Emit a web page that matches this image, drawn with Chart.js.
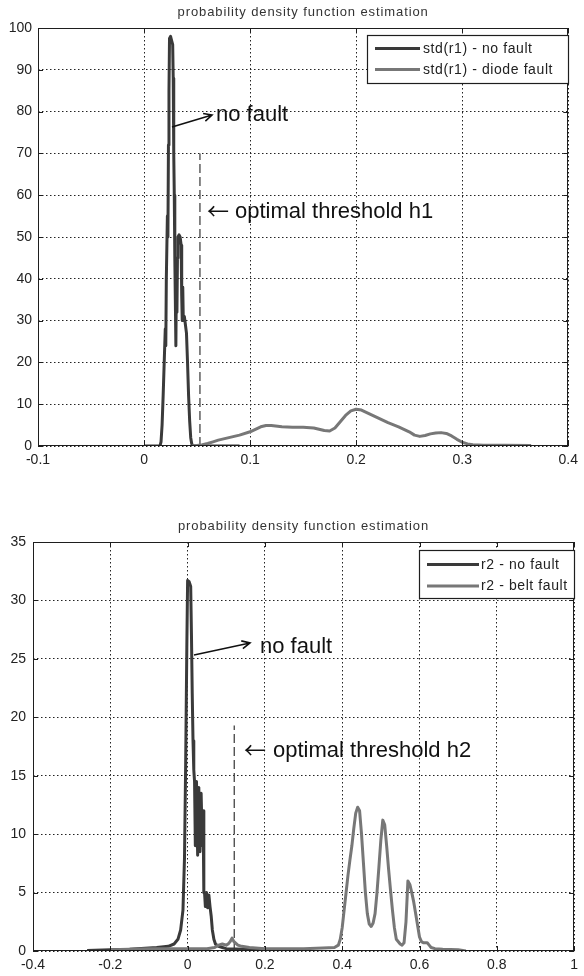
<!DOCTYPE html>
<html><head><meta charset="utf-8">
<script src="https://cdn.jsdelivr.net/npm/chart.js@4.4.1/dist/chart.umd.min.js"></script>
<style>
html,body{margin:0;padding:0;background:#fff;width:584px;height:976px;overflow:hidden}
.w{position:absolute;left:0;width:584px}
#w1{top:0;height:475px}
#w2{top:480px;height:496px}
</style></head><body>
<div class="w" id="w1"><canvas id="c1"></canvas></div>
<div class="w" id="w2"><canvas id="c2"></canvas></div>
<script>
// ---------- DATA: top chart ----------
const title1 = "probability density function estimation";
const legend1 = ["std(r1) - no fault", "std(r1) - diode fault"];
const xTicks1 = [-0.1, 0, 0.1, 0.2, 0.3, 0.4];
const xLabels1 = ["-0.1", "0", "0.1", "0.2", "0.3", "0.4"];
const yTicks1 = [0, 10, 20, 30, 40, 50, 60, 70, 80, 90, 100];
const yLabels1 = ["0", "10", "20", "30", "40", "50", "60", "70", "80", "90", "100"];
const noFault1X = [0, 0.010, 0.015, 0.016, 0.017, 0.018, 0.019, 0.020, 0.0205, 0.021, 0.022, 0.0225, 0.023, 0.0235, 0.024, 0.025, 0.026, 0.027, 0.0275, 0.028, 0.0285, 0.029, 0.0295, 0.030, 0.0305, 0.031, 0.0315, 0.032, 0.033, 0.034, 0.035, 0.0355, 0.036, 0.0365, 0.037, 0.038, 0.039, 0.040, 0.041, 0.042, 0.043, 0.044, 0.045, 0.046, 0.06, 0.09];
const noFault1Y = [0, 0, 0, 1, 5, 12, 20, 28, 24, 40, 55, 50, 72, 85, 97.5, 98, 97, 96, 88, 70, 60, 45, 35, 24, 40, 32, 45, 50, 50.5, 50, 48, 36, 30, 38, 30, 31, 29, 27, 20, 12, 6, 2, 0.5, 0, 0, 0];
const fault1X = [0.045, 0.05, 0.055, 0.06, 0.065, 0.07, 0.08, 0.09, 0.10, 0.105, 0.11, 0.115, 0.12, 0.13, 0.14, 0.15, 0.16, 0.165, 0.17, 0.175, 0.18, 0.185, 0.19, 0.195, 0.2, 0.205, 0.21, 0.22, 0.23, 0.24, 0.25, 0.255, 0.26, 0.265, 0.27, 0.275, 0.28, 0.285, 0.29, 0.295, 0.30, 0.305, 0.31, 0.32, 0.34, 0.365];
const fault1Y = [0, 0.1, 0.3, 0.6, 1.0, 1.4, 2.0, 2.6, 3.4, 4.0, 4.6, 4.9, 4.9, 4.6, 4.5, 4.5, 4.3, 4.0, 3.7, 3.6, 4.3, 5.8, 7.3, 8.4, 8.8, 8.6, 8.0, 6.8, 5.6, 4.6, 3.4, 2.6, 2.3, 2.5, 2.9, 3.1, 3.2, 3.0, 2.4, 1.6, 0.9, 0.5, 0.3, 0.2, 0.15, 0.1];
const threshold1X = [0.0527, 0.0527];
const threshold1Y = [0, 70];
const noteNoFault1 = "no fault";
const noteThresholdArrow = "←";
const noteThreshold1 = "optimal threshold h1";

// ---------- DATA: bottom chart ----------
const title2 = "probability density function estimation";
const legend2 = ["r2 - no fault", "r2 - belt fault"];
const xTicks2 = [-0.4, -0.2, 0, 0.2, 0.4, 0.6, 0.8, 1];
const xLabels2 = ["-0.4", "-0.2", "0", "0.2", "0.4", "0.6", "0.8", "1"];
const yTicks2 = [0, 5, 10, 15, 20, 25, 30, 35];
const yLabels2 = ["0", "5", "10", "15", "20", "25", "30", "35"];
const noFault2X = [-0.26, -0.2, -0.15, -0.1, -0.08, -0.05, -0.035, -0.025, -0.018, -0.012, -0.008, -0.005, -0.002, 0.0, 0.004, 0.008, 0.010, 0.012, 0.014, 0.016, 0.018, 0.020, 0.023, 0.026, 0.029, 0.032, 0.035, 0.038, 0.040, 0.042, 0.044, 0.046, 0.049, 0.052, 0.055, 0.058, 0.061, 0.064, 0.068, 0.072, 0.08, 0.09, 0.1, 0.15, 0.2, 0.25];
const noFault2Y = [0.05, 0.1, 0.15, 0.25, 0.3, 0.4, 0.6, 1.0, 1.8, 3.5, 8, 16, 26, 31.7, 31.6, 31.2, 27, 22, 18, 15.5, 14.5, 9, 14.5, 8.2, 14, 8.5, 13.5, 9, 12, 5, 4.9, 3.8, 5.0, 3.7, 4.8, 3.8, 3.0, 1.8, 1.0, 0.6, 0.4, 0.3, 0.2, 0.15, 0.1, 0.05];
const fault2X = [-0.2, -0.15, -0.1, -0.05, 0, 0.05, 0.07, 0.08, 0.09, 0.1, 0.105, 0.11, 0.115, 0.12, 0.13, 0.14, 0.16, 0.2, 0.25, 0.3, 0.35, 0.38, 0.39, 0.395, 0.40, 0.405, 0.41, 0.415, 0.42, 0.425, 0.43, 0.435, 0.44, 0.445, 0.45, 0.455, 0.46, 0.465, 0.47, 0.475, 0.48, 0.485, 0.49, 0.495, 0.50, 0.505, 0.51, 0.515, 0.52, 0.525, 0.53, 0.535, 0.54, 0.55, 0.555, 0.56, 0.565, 0.57, 0.575, 0.58, 0.585, 0.59, 0.595, 0.60, 0.605, 0.61, 0.62, 0.625, 0.63, 0.64, 0.66, 0.7, 0.72];
const fault2Y = [0.1, 0.15, 0.2, 0.2, 0.2, 0.2, 0.3, 0.5, 0.6, 0.5, 0.6, 0.8, 1.1, 0.8, 0.5, 0.4, 0.3, 0.2, 0.2, 0.2, 0.25, 0.3, 0.5, 1.0, 2.0, 3.5, 5.0, 6.5, 7.8, 9.0, 10.5, 11.8, 12.3, 12.0, 10.0, 7.5, 5.0, 3.2, 2.3, 2.1, 2.4, 3.2, 5.0, 7.2, 9.5, 11.2, 10.8, 9.0, 7.0, 5.2, 3.5, 2.0, 1.0, 0.6, 0.5, 0.7, 2.5, 6.0, 5.7, 5.0, 4.2, 3.2, 2.2, 1.2, 0.8, 0.7, 0.7, 0.5, 0.3, 0.2, 0.15, 0.1, 0];
const threshold2X = [0.1207, 0.1207];
const threshold2Y = [0, 19.3];
const noteNoFault2 = "no fault";
const noteThreshold2 = "optimal threshold h2";

// ---------- helpers ----------
const pts = (xs, ys) => xs.map((x, i) => ({x: x, y: ys[i]}));
const DARK = '#3a3a3a', GREY = '#777777';
const TICKFONT = {family: '"Liberation Sans", Arial, sans-serif', size: 14};

function arrow(ctx, x1, y1, x2, y2) {
  const ang = Math.atan2(y2 - y1, x2 - x1), h = 9, w = 0.45;
  ctx.beginPath();
  ctx.moveTo(x1, y1); ctx.lineTo(x2, y2);
  ctx.moveTo(x2 - h * Math.cos(ang - w), y2 - h * Math.sin(ang - w));
  ctx.lineTo(x2, y2);
  ctx.lineTo(x2 - h * Math.cos(ang + w), y2 - h * Math.sin(ang + w));
  ctx.stroke();
}

function decoPlugin(o) {
  return {
    id: 'deco',
    afterDraw(chart) {
      const ctx = chart.ctx, a = chart.chartArea, xs = chart.scales.x, ys = chart.scales.y;
      ctx.save();
      // frame
      ctx.strokeStyle = '#1e1e1e'; ctx.lineWidth = 1;
      ctx.strokeRect(Math.round(a.left) + 0.5, Math.round(a.top) + 0.5, Math.round(a.right - a.left) - 1, Math.round(a.bottom - a.top) - 1);
      // inward ticks
      ctx.beginPath();
      o.xTicks.forEach(v => { const p = Math.round(xs.getPixelForValue(v)) + 0.5;
        ctx.moveTo(p, a.bottom); ctx.lineTo(p, a.bottom - 5); ctx.moveTo(p, a.top); ctx.lineTo(p, a.top + 5); });
      o.yTicks.forEach(v => { const p = Math.round(ys.getPixelForValue(v)) + 0.5;
        ctx.moveTo(a.left, p); ctx.lineTo(a.left + 5, p); ctx.moveTo(a.right, p); ctx.lineTo(a.right - 5, p); });
      ctx.stroke();
      // title
      ctx.fillStyle = '#333'; ctx.font = '13px "Liberation Sans", Arial, sans-serif';
      ctx.letterSpacing = '0.9px';
      ctx.textAlign = 'center'; ctx.textBaseline = 'alphabetic';
      ctx.fillText(o.title, (a.left + a.right) / 2, o.titleY);
      // legend
      const L = o.legend;
      ctx.fillStyle = '#fff'; ctx.fillRect(L.x, L.y, L.w, L.h);
      ctx.strokeStyle = '#1e1e1e'; ctx.lineWidth = 1.2; ctx.strokeRect(L.x + 0.5, L.y + 0.5, L.w, L.h);
      ctx.font = '14px "Liberation Sans", Arial, sans-serif'; ctx.letterSpacing = '0.6px';
      ctx.textAlign = 'left'; ctx.textBaseline = 'middle'; ctx.fillStyle = '#222';
      o.legendText.forEach((t, i) => {
        const yy = L.rows[i];
        ctx.strokeStyle = i === 0 ? DARK : GREY; ctx.lineWidth = 3;
        ctx.beginPath(); ctx.moveTo(L.lx1, yy); ctx.lineTo(L.lx2, yy); ctx.stroke();
        ctx.fillText(t, L.tx, yy + 0.5);
      });
      // annotations
      ctx.letterSpacing = '0px';
      ctx.fillStyle = '#111'; ctx.font = '22px "Liberation Sans", Arial, sans-serif';
      ctx.textBaseline = 'alphabetic'; ctx.textAlign = 'left';
      ctx.fillText(o.noFault.text, o.noFault.x, o.noFault.y);
      ctx.strokeStyle = '#111'; ctx.lineWidth = 1.6;
      arrow(ctx, o.noFault.ax1, o.noFault.ay1, o.noFault.ax2, o.noFault.ay2);
      ctx.fillText(o.thr.text, o.thr.x, o.thr.y);
      ctx.font = '22px "Noto Sans CJK SC", "DejaVu Sans", sans-serif';
      ctx.fillText(noteThresholdArrow, o.thr.arrowX, o.thr.y + 1);
      ctx.restore();
    }
  };
}

function makeChart(id, d) {
  return new Chart(document.getElementById(id), {
    type: 'line',
    data: {
      datasets: [
        {data: pts(d.fX, d.fY), borderColor: GREY, borderWidth: 3},
        {data: pts(d.nX, d.nY), borderColor: DARK, borderWidth: 3},
        {data: pts(d.tX, d.tY), borderColor: '#444', borderWidth: 1.3, borderDash: [9, 4]}
      ]
    },
    options: {
      responsive: true, maintainAspectRatio: false, animation: false, devicePixelRatio: 1,
      elements: {point: {radius: 0, hoverRadius: 0}, line: {tension: 0, fill: false, borderJoinStyle: 'round'}},
      layout: {autoPadding: false, padding: d.padding},
      plugins: {legend: {display: false}, tooltip: {enabled: false}, title: {display: false}},
      events: [],
      scales: {
        x: {
          type: 'linear', min: d.xMin, max: d.xMax,
          afterBuildTicks: s => { s.ticks = d.xTicks.map(v => ({value: v})); },
          afterFit: s => { s.height = d.xH; },
          ticks: {autoSkip: false, maxRotation: 0, padding: d.xPad, color: '#222', font: TICKFONT,
                  callback: (v, i) => d.xLabels[i]},
          grid: {color: '#222', lineWidth: 1, drawTicks: false},
          border: {display: false, dash: [1.5, 2.5]}
        },
        y: {
          type: 'linear', min: d.yMin, max: d.yMax,
          afterBuildTicks: s => { s.ticks = d.yTicks.map(v => ({value: v})); },
          afterFit: s => { s.width = d.yW; },
          ticks: {autoSkip: false, padding: d.yPad, color: '#222', font: TICKFONT,
                  callback: (v, i) => d.yLabels[i]},
          grid: {color: '#222', lineWidth: 1, drawTicks: false},
          border: {display: false, dash: [1.5, 2.5]}
        }
      }
    },
    plugins: [decoPlugin(d.deco)]
  });
}

makeChart('c1', {
  fX: fault1X, fY: fault1Y, nX: noFault1X, nY: noFault1Y, tX: threshold1X, tY: threshold1Y,
  xMin: -0.1, xMax: 0.4, yMin: 0, yMax: 100,
  xTicks: xTicks1, xLabels: xLabels1, yTicks: yTicks1, yLabels: yLabels1,
  padding: {left: 0, right: 10, top: 28, bottom: 0}, xH: 29, yW: 38, xPad: 6, yPad: 6,
  deco: {
    xTicks: xTicks1, yTicks: yTicks1, title: title1, titleY: 16,
    legendText: legend1,
    legend: {x: 367, y: 35, w: 201, h: 48, rows: [48.5, 69.5], lx1: 375, lx2: 420, tx: 423},
    noFault: {text: noteNoFault1, x: 216, y: 121, ax1: 172, ay1: 127, ax2: 212, ay2: 115},
    thr: {text: noteThreshold1, x: 235, y: 218, arrowX: 207}
  }
});

makeChart('c2', {
  fX: fault2X, fY: fault2Y, nX: noFault2X, nY: noFault2Y, tX: threshold2X, tY: threshold2Y,
  xMin: -0.4, xMax: 1, yMin: 0, yMax: 35,
  xTicks: xTicks2, xLabels: xLabels2, yTicks: yTicks2, yLabels: yLabels2,
  padding: {left: 0, right: 5, top: 62, bottom: 0}, xH: 25, yW: 33, xPad: 6, yPad: 7,
  deco: {
    xTicks: xTicks2, yTicks: yTicks2, title: title2, titleY: 50,
    legendText: legend2,
    legend: {x: 419, y: 70, w: 155, h: 48, rows: [84.5, 106], lx1: 427, lx2: 479, tx: 481},
    noFault: {text: noteNoFault2, x: 260, y: 173, ax1: 194, ay1: 175, ax2: 250, ay2: 163},
    thr: {text: noteThreshold2, x: 273, y: 277, arrowX: 244}
  }
});
</script>
</body></html>
